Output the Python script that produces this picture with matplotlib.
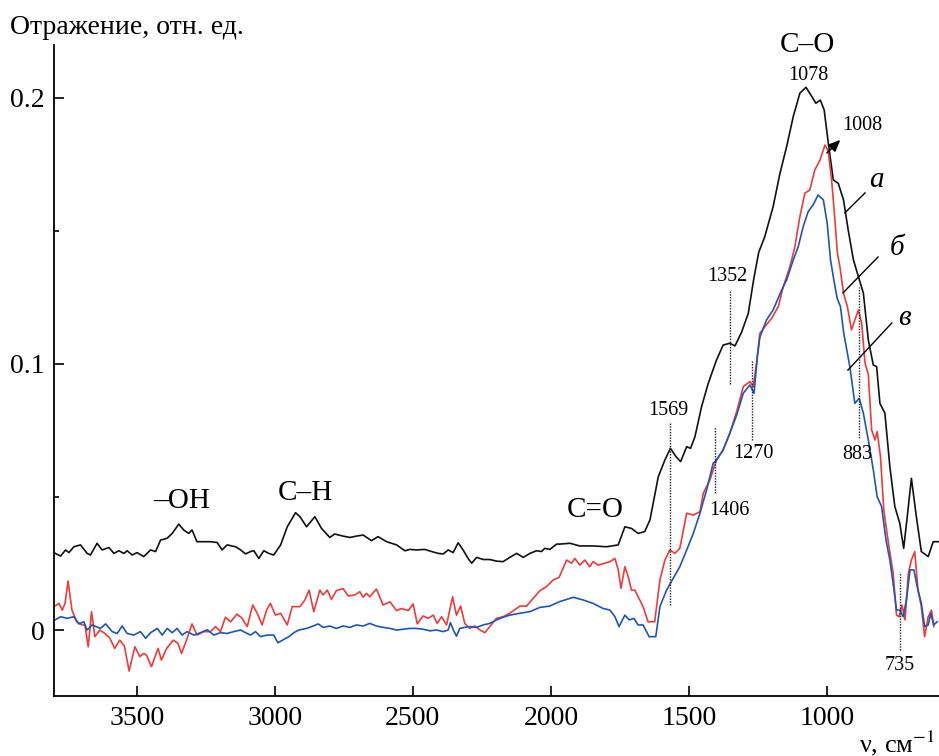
import matplotlib
matplotlib.use("Agg")
import matplotlib.pyplot as plt

plt.rcParams["font.family"] = ["Liberation Serif", "DejaVu Serif"]
plt.rcParams["mathtext.fontset"] = "stix"

# ---- spectrum a (black) ----
wn_a = [3801, 3776, 3758, 3746, 3728, 3704, 3680, 3668, 3644, 3626, 3601, 3583, 3565,
        3547, 3535, 3517, 3499, 3475, 3450, 3432, 3414, 3390, 3372, 3348, 3330, 3312,
        3300, 3282, 3257, 3233, 3209, 3191, 3173, 3142, 3124, 3106, 3088, 3076, 3058,
        3040, 3022, 3004, 2979, 2955, 2925, 2909, 2885, 2855, 2831, 2801, 2783, 2753,
        2728, 2704, 2680, 2650, 2626, 2595, 2559, 2529, 2511, 2487, 2457, 2432, 2408,
        2390, 2372, 2354, 2336, 2318, 2300, 2287, 2269, 2245, 2221, 2197, 2173, 2149,
        2124, 2100, 2076, 2052, 2034, 2022, 2004, 1979, 1967, 1931, 1895, 1847, 1798,
        1756, 1732, 1708, 1684, 1660, 1641, 1611, 1587, 1567, 1547, 1530, 1508, 1494,
        1478, 1454, 1430, 1400, 1376, 1352, 1333, 1309, 1285, 1265, 1247, 1225, 1195,
        1170, 1146, 1122, 1098, 1076, 1058, 1040, 1024, 1010, 995, 977, 959, 940, 923,
        904, 886, 868, 850, 832, 820, 808, 790, 772, 754, 736, 722, 709, 694, 676, 658,
        633, 615, 597]
refl_a = [0.0291, 0.0278, 0.0301, 0.0291, 0.0313, 0.0320, 0.0288, 0.0282, 0.0326, 0.0301,
          0.0310, 0.0288, 0.0298, 0.0288, 0.0298, 0.0282, 0.0291, 0.0276, 0.0301, 0.0295,
          0.0338, 0.0345, 0.0363, 0.0398, 0.0376, 0.0363, 0.0376, 0.0332, 0.0332, 0.0332,
          0.0329, 0.0301, 0.0320, 0.0313, 0.0301, 0.0286, 0.0295, 0.0298, 0.0269, 0.0298,
          0.0288, 0.0282, 0.0320, 0.0388, 0.0441, 0.0426, 0.0388, 0.0426, 0.0382, 0.0348,
          0.0361, 0.0353, 0.0348, 0.0353, 0.0357, 0.0336, 0.0351, 0.0332, 0.0320, 0.0298,
          0.0303, 0.0301, 0.0303, 0.0295, 0.0288, 0.0286, 0.0301, 0.0291, 0.0328, 0.0301,
          0.0269, 0.0251, 0.0273, 0.0265, 0.0265, 0.0259, 0.0257, 0.0273, 0.0288, 0.0273,
          0.0288, 0.0298, 0.0295, 0.0307, 0.0303, 0.0323, 0.0323, 0.0326, 0.0316, 0.0316,
          0.0313, 0.0320, 0.0388, 0.0382, 0.0363, 0.0370, 0.0414, 0.0576, 0.0639, 0.0683,
          0.0652, 0.0633, 0.0689, 0.0683, 0.0727, 0.0840, 0.0927, 0.1015, 0.1071, 0.1078,
          0.1068, 0.1120, 0.1190, 0.1320, 0.1420, 0.1479, 0.1591, 0.1717, 0.1817, 0.1930,
          0.2018, 0.2040, 0.2011, 0.1980, 0.1992, 0.1955, 0.1830, 0.1692, 0.1679, 0.1617,
          0.1504, 0.1391, 0.1328, 0.1266, 0.1090, 0.0996, 0.0990, 0.0852, 0.0815, 0.0614,
          0.0464, 0.0401, 0.0307, 0.0426, 0.0570, 0.0426, 0.0295, 0.0276, 0.0332, 0.0332]

# ---- spectrum b (red) ----
wn_b = [3800, 3782, 3770, 3760, 3749, 3735, 3718, 3698, 3688, 3676, 3664, 3652, 3634,
        3616, 3598, 3580, 3562, 3545, 3528, 3507, 3489, 3475, 3465, 3447, 3423, 3411,
        3392, 3368, 3351, 3338, 3320, 3300, 3282, 3257, 3233, 3215, 3197, 3179, 3160,
        3137, 3119, 3100, 3080, 3064, 3046, 3030, 3016, 2998, 2979, 2955, 2937, 2909,
        2891, 2876, 2859, 2837, 2825, 2810, 2795, 2777, 2753, 2734, 2710, 2692, 2680,
        2668, 2656, 2632, 2608, 2583, 2559, 2541, 2517, 2499, 2484, 2463, 2445, 2426,
        2412, 2396, 2378, 2356, 2342, 2327, 2312, 2294, 2275, 2257, 2239, 2221, 2197,
        2173, 2149, 2112, 2088, 2064, 2040, 2016, 1992, 1970, 1943, 1925, 1913, 1895,
        1877, 1859, 1847, 1829, 1805, 1786, 1768, 1756, 1746, 1732, 1720, 1708, 1696,
        1684, 1666, 1648, 1624, 1605, 1587, 1569, 1551, 1533, 1508, 1484, 1460, 1448,
        1424, 1400, 1376, 1352, 1327, 1303, 1279, 1267, 1255, 1243, 1225, 1200, 1176,
        1158, 1134, 1116, 1098, 1080, 1062, 1044, 1025, 1007, 995, 983, 971, 962, 953,
        940, 926, 911, 899, 886, 874, 862, 850, 838, 826, 818, 806, 794, 778, 760, 748,
        738, 728, 717, 705, 694, 682, 670, 658, 646, 633, 621, 613]
refl_b = [0.0088, 0.0100, 0.0075, 0.0100, 0.0184, 0.0075, 0.0031, 0.0019, 0.0019, -0.0063,
          0.0069, -0.0025, 0.0000, -0.0013, -0.0030, -0.0069, -0.0038, -0.0060, -0.0154,
          -0.0063, -0.0100, -0.0088, -0.0094, -0.0138, -0.0069, -0.0113, -0.0069, -0.0038,
          -0.0050, -0.0088, -0.0038, 0.0023, -0.0019, -0.0006, -0.0006, 0.0013, -0.0006,
          0.0048, 0.0031, 0.0060, 0.0044, 0.0013, 0.0094, 0.0063, 0.0019, 0.0075, 0.0100,
          0.0056, 0.0063, 0.0019, 0.0088, 0.0088, 0.0113, 0.0150, 0.0069, 0.0150, 0.0132,
          0.0150, 0.0115, 0.0148, 0.0156, 0.0128, 0.0132, 0.0144, 0.0123, 0.0138, 0.0125,
          0.0154, 0.0094, 0.0106, 0.0073, 0.0081, 0.0073, 0.0098, 0.0023, 0.0053, 0.0044,
          0.0056, 0.0025, 0.0050, 0.0019, 0.0125, 0.0056, 0.0090, 0.0025, 0.0006, 0.0015,
          0.0000, -0.0010, 0.0013, 0.0044, 0.0050, 0.0063, 0.0090, 0.0090, 0.0119, 0.0148,
          0.0163, 0.0188, 0.0198, 0.0263, 0.0251, 0.0269, 0.0244, 0.0263, 0.0238, 0.0257,
          0.0244, 0.0251, 0.0257, 0.0269, 0.0226, 0.0157, 0.0238, 0.0201, 0.0150, 0.0150,
          0.0125, 0.0088, 0.0031, 0.0031, 0.0188, 0.0263, 0.0301, 0.0288, 0.0307, 0.0439,
          0.0432, 0.0445, 0.0514, 0.0564, 0.0639, 0.0677, 0.0739, 0.0821, 0.0915, 0.0934,
          0.0915, 0.1003, 0.1115, 0.1140, 0.1172, 0.1216, 0.1291, 0.1366, 0.1441, 0.1554,
          0.1642, 0.1654, 0.1729, 0.1767, 0.1823, 0.1798, 0.1692, 0.1541, 0.1416, 0.1366,
          0.1266, 0.1216, 0.1128, 0.1165, 0.1203, 0.1153, 0.1003, 0.0960, 0.0752, 0.0714,
          0.0746, 0.0652, 0.0451, 0.0332, 0.0213, 0.0056, 0.0050, 0.0094, 0.0038, 0.0213,
          0.0263, 0.0295, 0.0150, 0.0088, -0.0025, 0.0050, 0.0075, 0.0013]

# ---- spectrum c (blue) ----
wn_c = [3801, 3776, 3752, 3728, 3710, 3692, 3680, 3662, 3632, 3613, 3589, 3571, 3553,
        3535, 3511, 3487, 3468, 3450, 3426, 3408, 3390, 3372, 3354, 3336, 3318, 3293,
        3269, 3245, 3221, 3197, 3173, 3149, 3124, 3106, 3088, 3070, 3052, 3028, 3004,
        2989, 2967, 2949, 2931, 2913, 2885, 2861, 2843, 2825, 2801, 2777, 2753, 2728,
        2704, 2680, 2656, 2632, 2608, 2583, 2559, 2535, 2511, 2487, 2463, 2438, 2414,
        2390, 2372, 2364, 2352, 2342, 2330, 2312, 2294, 2269, 2245, 2221, 2197, 2173,
        2149, 2112, 2076, 2040, 2004, 1970, 1919, 1883, 1847, 1811, 1786, 1768, 1753,
        1732, 1716, 1699, 1684, 1666, 1644, 1620, 1605, 1581, 1557, 1533, 1508, 1484,
        1460, 1436, 1412, 1400, 1376, 1352, 1327, 1303, 1279, 1264, 1252, 1243, 1219,
        1195, 1164, 1146, 1122, 1104, 1086, 1068, 1050, 1032, 1013, 999, 987, 975, 963,
        951, 939, 926, 917, 899, 883, 868, 850, 832, 818, 802, 786, 772, 757, 748, 736,
        724, 712, 699, 685, 673, 658, 646, 633, 624, 613, 601]
refl_c = [0.0035, 0.0050, 0.0044, 0.0050, 0.0023, 0.0031, 0.0000, 0.0019, 0.0006, 0.0023,
          -0.0006, -0.0013, 0.0015, -0.0013, -0.0019, -0.0006, -0.0031, -0.0010, 0.0006,
          -0.0019, 0.0006, -0.0010, 0.0006, -0.0019, -0.0006, -0.0019, -0.0010, 0.0001,
          -0.0019, -0.0010, -0.0013, -0.0006, 0.0000, -0.0010, -0.0019, -0.0006, -0.0025,
          -0.0019, -0.0019, -0.0048, -0.0035, -0.0025, -0.0010, 0.0000, 0.0006, 0.0015,
          0.0023, 0.0010, 0.0015, 0.0006, 0.0015, 0.0010, 0.0019, 0.0015, 0.0025, 0.0015,
          0.0010, 0.0006, 0.0000, 0.0003, 0.0006, 0.0006, 0.0003, -0.0003, 0.0000, -0.0006,
          0.0000, 0.0028, -0.0003, -0.0023, 0.0006, 0.0010, 0.0013, 0.0010, 0.0019, 0.0025,
          0.0038, 0.0048, 0.0056, 0.0063, 0.0069, 0.0085, 0.0090, 0.0106, 0.0123, 0.0113,
          0.0100, 0.0081, 0.0075, 0.0050, 0.0013, 0.0056, 0.0038, 0.0044, 0.0019, 0.0019,
          -0.0025, -0.0025, 0.0088, 0.0150, 0.0194, 0.0238, 0.0301, 0.0363, 0.0439, 0.0526,
          0.0627, 0.0639, 0.0677, 0.0739, 0.0808, 0.0890, 0.0921, 0.0890, 0.1028, 0.1100,
          0.1165, 0.1203, 0.1278, 0.1316, 0.1391, 0.1441, 0.1516, 0.1573, 0.1598, 0.1635,
          0.1617, 0.1529, 0.1391, 0.1316, 0.1247, 0.1216, 0.1115, 0.1040, 0.0990, 0.0852,
          0.0871, 0.0815, 0.0714, 0.0602, 0.0501, 0.0464, 0.0338, 0.0263, 0.0150, 0.0075,
          0.0075, 0.0050, 0.0113, 0.0226, 0.0226, 0.0163, 0.0100, 0.0013, 0.0019, 0.0063,
          0.0019, 0.0031]

# marked band positions: (wavenumber, label, line bottom, line top, label x, label y)
bands = [
    (1569, "1569", 0.0094, 0.0782, 1575, 0.0827),
    (1352, "1352", 0.0925, 0.1278, 1361, 0.1327),
    (1406, "1406", 0.0515, 0.0763, 1352, 0.0451),
    (1270, "1270", 0.0714, 0.1015, 1268, 0.0665),
    (883, "883", 0.0722, 0.1289, 891, 0.0658),
    (735, "735", -0.0075, 0.0218, 736, -0.0132),
]

fig = plt.figure(figsize=(9.39, 7.56), dpi=100)
ax = fig.add_axes([54 / 939, 1 - 696 / 756, 1 - 54 / 939, (696 - 45) / 756])

ax.plot(wn_a, refl_a, color="#111111", lw=1.2)
ax.plot(wn_b, refl_b, color="#ee3b3b", lw=1.2)
ax.plot(wn_c, refl_c, color="#1f56b0", lw=1.2)

ax.set_xlim(3800, 594)
ax.set_ylim(-0.0248, 0.2199)

for s in ("top", "right"):
    ax.spines[s].set_visible(False)
for s in ("left", "bottom"):
    ax.spines[s].set_linewidth(1.3)

ax.set_xticks([3500, 3000, 2500, 2000, 1500, 1000])
ax.set_xticklabels(["3500", "3000", "2500", "2000", "1500", "1000"])
ax.set_yticks([0, 0.1, 0.2])
ax.set_yticklabels(["0", "0.1", "0.2"])
ax.set_yticks([0.05, 0.15], minor=True)
ax.tick_params(axis="both", which="major", direction="in", length=7, width=1.2,
               labelsize=20, pad=7)
ax.tick_params(axis="y", which="minor", direction="in", length=3.5, width=1.2)

for wn, lab, y0, y1, lx, ly in bands:
    ax.plot([wn, wn], [y0, y1], color="#222222", lw=1.0, ls=(0, (1, 1)))
    ax.text(lx, ly, lab, fontsize=14.5, ha="center", va="center")

ax.text(1069, 0.2086, "1078", fontsize=14.5, ha="center", va="center")
ax.text(1069, 0.2199, "C–O", fontsize=21, ha="center", va="center", clip_on=False)
ax.text(873, 0.1898, "1008", fontsize=14.5, ha="center", va="center")
ax.annotate("", xy=(944, 0.1850), xytext=(1007, 0.1786),
            arrowprops=dict(arrowstyle="-|>,head_length=0.7,head_width=0.3",
                            color="black", lw=1.2))

ax.text(3337, 0.0485, "–OH", fontsize=21, ha="center", va="center")
ax.text(2891, 0.0515, "C–H", fontsize=21, ha="center", va="center")
ax.text(1841, 0.0451, "C=O", fontsize=21, ha="center", va="center")

for lab, tx, ty, (x0, y0), (x1, y1) in [
    ("а", 819, 0.1692, (935, 0.1568), (862, 0.1643)),
    ("б", 747, 0.1436, (942, 0.1267), (815, 0.1402)),
    ("в", 718, 0.1173, (924, 0.0977), (765, 0.1154)),
]:
    ax.plot([x0, x1], [y0, y1], color="black", lw=1.0)
    ax.text(tx, ty, lab, fontsize=21, style="italic", ha="center", va="center")

fig.text(10 / 939, 1 - 34 / 756, "Отражение, отн. ед.", fontsize=20,
         ha="left", va="baseline")
fig.text(935 / 939, 1 - 752 / 756, "ν, см$^{-1}$", fontsize=19,
         ha="right", va="baseline")

fig.savefig("out.png", dpi=100)
